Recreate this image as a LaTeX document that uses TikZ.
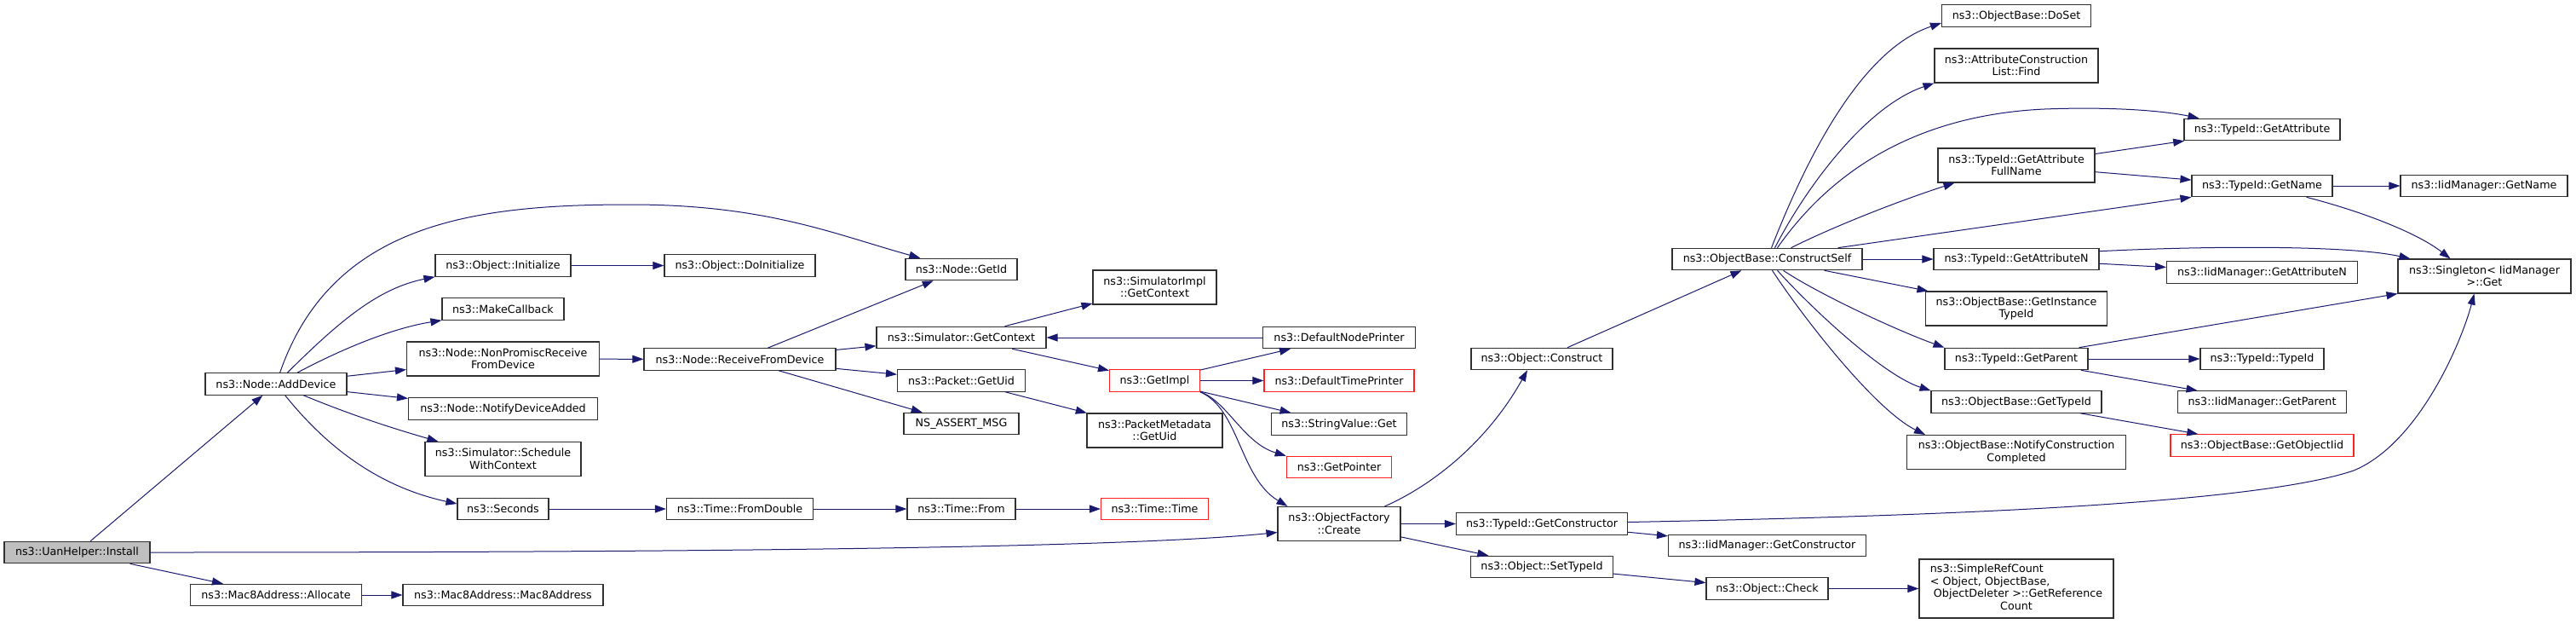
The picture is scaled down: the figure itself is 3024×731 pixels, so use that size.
\documentclass[tikz,border=0pt]{standalone}
\usepackage{fontspec}
\setmainfont{DejaVu Sans}
\usetikzlibrary{arrows.meta,calc}
\definecolor{midnight}{HTML}{191970}
\definecolor{nodeborder}{HTML}{303030}
\definecolor{rootfill}{HTML}{BFBFBF}
\definecolor{truncred}{HTML}{FF2020}
\tikzset{
  fn/.style={draw=nodeborder, line width=1.1pt, rectangle, inner sep=0pt, align=center,
             fill=white, font=\fontsize{12.7}{14.5}\selectfont},
  trunc/.style={fn, draw=truncred},
  root/.style={fn, fill=rootfill},
  edge/.style={draw=midnight, line width=1pt, -{Triangle[length=13pt,width=9pt]}},
}
\newcommand\fnode[6]{\node[#1, minimum width=#4pt, minimum height=#5pt] (#2) at (#3) {#6};}
\begin{document}
\begin{tikzpicture}[x=1pt,y=-1pt]
\fill[white] (0,0) rectangle (3024,731);
\useasboundingbox (0,0) rectangle (3024,731);

\fnode{root}{install}{90.5,648}{171}{25.5}{ns3::UanHelper::Install}
\fnode{fn}{adddev}{324,450.5}{166}{25.5}{ns3::Node::AddDevice}
\fnode{fn}{allocate}{324,698}{201.5}{25.5}{ns3::Mac8Address::Allocate}
\fnode{fn}{objinit}{590.5,311.5}{159}{25.5}{ns3::Object::Initialize}
\fnode{fn}{makecb}{590.5,362.5}{143}{25.5}{ns3::MakeCallback}
\fnode{fn}{nonpromisc}{590.5,421}{226}{40}{ns3::Node::NonPromiscReceive\\FromDevice}
\fnode{fn}{notify}{590.5,479.5}{222}{25.5}{ns3::Node::NotifyDeviceAdded}
\fnode{fn}{schedule}{590.5,538.5}{183}{40}{ns3::Simulator::Schedule\\WithContext}
\fnode{fn}{seconds}{590.5,597}{107}{25.5}{ns3::Seconds}
\fnode{fn}{mac8}{590.5,698}{235}{25.5}{ns3::Mac8Address::Mac8Address}
\fnode{fn}{doinit}{868.5,311.5}{177}{25.5}{ns3::Object::DoInitialize}
\fnode{fn}{recv}{868.5,421.5}{225}{25.5}{ns3::Node::ReceiveFromDevice}
\fnode{fn}{fromdouble}{868.5,597}{172}{25.5}{ns3::Time::FromDouble}
\fnode{fn}{getid}{1128.5,316}{131}{25.5}{ns3::Node::GetId}
\fnode{fn}{simctx}{1128.5,396}{199}{25.5}{ns3::Simulator::GetContext}
\fnode{fn}{pktuid}{1128.5,446.5}{150}{25.5}{ns3::Packet::GetUid}
\fnode{fn}{nsassert}{1128.5,497}{135}{25.5}{NS\_ASSERT\_MSG}
\fnode{fn}{timefrom}{1128.5,597}{127}{25.5}{ns3::Time::From}
\fnode{fn}{simimplctx}{1355.5,337}{145}{40}{ns3::SimulatorImpl\\::GetContext}
\fnode{trunc}{getimpl}{1355.5,446.5}{106}{25.5}{ns3::GetImpl}
\fnode{fn}{pktmeta}{1355.5,505}{159}{40}{ns3::PacketMetadata\\::GetUid}
\fnode{trunc}{timetime}{1355.5,597}{126}{25.5}{ns3::Time::Time}
\fnode{fn}{defnode}{1572,396}{178.5}{25.5}{ns3::DefaultNodePrinter}
\fnode{trunc}{deftime}{1572,446.5}{176}{25.5}{ns3::DefaultTimePrinter}
\fnode{fn}{strval}{1572,497.5}{159}{25.5}{ns3::StringValue::Get}
\fnode{trunc}{getptr}{1572,548}{123.5}{25.5}{ns3::GetPointer}
\fnode{fn}{ofcreate}{1572,614.5}{144}{40}{ns3::ObjectFactory\\::Create}
\fnode{fn}{construct}{1810,421}{166}{25.5}{ns3::Object::Construct}
\fnode{fn}{getctor}{1810,614.5}{201}{25.5}{ns3::TypeId::GetConstructor}
\fnode{fn}{settypeid}{1810,665}{167}{25.5}{ns3::Object::SetTypeId}
\fnode{fn}{constructself}{2074.5,304}{223}{25.5}{ns3::ObjectBase::ConstructSelf}
\fnode{fn}{iidgetctor}{2074.5,640}{232}{25.5}{ns3::IidManager::GetConstructor}
\fnode{fn}{check}{2074.5,690.5}{143}{25.5}{ns3::Object::Check}
\fnode{fn}{doset}{2367,18.5}{175}{25.5}{ns3::ObjectBase::DoSet}
\fnode{fn}{attrfind}{2367,77}{192}{40}{ns3::AttributeConstruction\\List::Find}
\fnode{fn}{fullname}{2367,194}{184}{40}{ns3::TypeId::GetAttribute\\FullName}
\fnode{fn}{getattrn}{2367,304}{194}{25.5}{ns3::TypeId::GetAttributeN}
\fnode{fn}{instancetid}{2367,362}{213.5}{40}{ns3::ObjectBase::GetInstance\\TypeId}
\fnode{fn}{getparent}{2367,421}{168}{25.5}{ns3::TypeId::GetParent}
\fnode{fn}{gettypeid}{2367,471.5}{200}{25.5}{ns3::ObjectBase::GetTypeId}
\fnode{fn}{notifycc}{2367,530.5}{257}{40}{ns3::ObjectBase::NotifyConstruction\\Completed}
\fnode{fn}{simpleref}{2367,690.5}{228}{69}{\begin{tabular}{@{}l@{}}ns3::SimpleRefCount\\< Object, ObjectBase,\\\ ObjectDeleter >::GetReference\\\multicolumn{1}{@{}c@{}}{Count}\end{tabular}}
\fnode{fn}{getattr}{2655.5,152}{183}{25.5}{ns3::TypeId::GetAttribute}
\fnode{fn}{getname}{2655.5,218}{165}{25.5}{ns3::TypeId::GetName}
\fnode{fn}{iidattrn}{2655.5,319.5}{224}{25.5}{ns3::IidManager::GetAttributeN}
\fnode{fn}{typeidctor}{2655.5,421}{145}{25.5}{ns3::TypeId::TypeId}
\fnode{fn}{iidparent}{2655.5,471.5}{198}{25.5}{ns3::IidManager::GetParent}
\fnode{trunc}{objiid}{2655.5,522.5}{215}{25.5}{ns3::ObjectBase::GetObjectIid}
\fnode{fn}{iidname}{2916,218}{196}{25.5}{ns3::IidManager::GetName}
\fnode{fn}{singleton}{2916.5,324}{203}{40}{ns3::Singleton< IidManager\\ >::Get}

% edges
\draw[edge] (install) -- (adddev);
\draw[edge] (install.east) .. controls (700,648) and (1300,645) .. ($(ofcreate.west)+(0,10)$);
\draw[edge] (install) -- (allocate);
\draw[edge] (allocate) -- (mac8);
\draw[edge] (adddev) .. controls (390,260) and (560,240) .. (740,240) .. controls (900,240) and (980,275) .. (getid);
\draw[edge] (adddev) .. controls (400,375) and (445,338) .. (objinit.south west);
\draw[edge] (adddev) .. controls (400,410) and (460,385) .. (makecb.south west);
\draw[edge] (adddev) -- (nonpromisc);
\draw[edge] (adddev) -- (notify);
\draw[edge] (adddev) .. controls (420,490) and (470,505) .. ($(schedule.north west)+(16,0)$);
\draw[edge] (adddev) .. controls (380,520) and (440,570) .. ($(seconds.west)+(0,-6)$);
\draw[edge] (objinit) -- (doinit);
\draw[edge] (nonpromisc) -- (recv);
\draw[edge] (seconds) -- (fromdouble);
\draw[edge] (fromdouble) -- (timefrom);
\draw[edge] (timefrom) -- (timetime);
\draw[edge] (recv) -- (getid);
\draw[edge] (recv) -- (simctx);
\draw[edge] (recv) -- (pktuid);
\draw[edge] (recv) -- (nsassert);
\draw[edge] (simctx) -- (simimplctx);
\draw[edge] (simctx) -- (getimpl);
\draw[edge] (defnode) -- (simctx);
\draw[edge] (pktuid) -- (pktmeta);
\draw[edge] (getimpl) -- (defnode);
\draw[edge] (getimpl) -- (deftime);
\draw[edge] (getimpl) -- (strval);
\draw[edge] (getimpl.south east) .. controls (1440,470) and (1460,520) .. (getptr.north west);
\draw[edge] (getimpl.south east) .. controls (1455,480) and (1455,560) .. ($(ofcreate.north west)+(12,0)$);
\draw[edge] ($(ofcreate.north east)+(-19,0)$) .. controls (1680,570) and (1745,520) .. ($(construct.south)+(-17,0)$);
\draw[edge] (construct) -- (constructself);
\draw[edge] (ofcreate) -- (getctor);
\draw[edge] (ofcreate) -- (settypeid);
\draw[edge] (getctor) -- (iidgetctor);
\draw[edge] (settypeid) -- (check);
\draw[edge] (check) -- (simpleref);
\draw[edge] ($(getctor.east)+(0,-2)$) .. controls (2300,605) and (2650,590) .. (2763,552) .. controls (2840,520) and (2890,400) .. ($(singleton.south)+(-12,0)$);
\draw[edge] ($(constructself.north)+(5,0)$) .. controls (2115,200) and (2180,60) .. ($(doset.west)+(0,8.5)$);
\draw[edge] ($(constructself.north)+(9,0)$) .. controls (2120,220) and (2190,125) .. (attrfind.south west);
\draw[edge] ($(constructself.north)+(12,0)$) .. controls (2150,200) and (2250,135) .. (2400,128) .. controls (2480,125) and (2540,130) .. ($(getattr.north west)+(18,0)$);
\draw[edge] ($(constructself.north)+(28,0)$) .. controls (2160,262) and (2240,232) .. ($(fullname.south west)+(20,0)$);
\draw[edge] ($(constructself.north east)+(-29,0)$) -- (getname.south west);
\draw[edge] (fullname) -- (getattr);
\draw[edge] (fullname) -- (getname);
\draw[edge] (constructself) -- (getattrn);
\draw[edge] (getattrn) -- (iidattrn);
\draw[edge] ($(getattrn.north east)+(0,4)$) .. controls (2600,288) and (2760,288) .. ($(singleton.north west)+(15,0)$);
\draw[edge] (constructself) -- (instancetid);
\draw[edge] ($(constructself.south)+(19,0)$) .. controls (2130,342) and (2220,385) .. (getparent.north west);
\draw[edge] ($(constructself.south)+(12,0)$) .. controls (2125,360) and (2210,440) .. (gettypeid.north west);
\draw[edge] ($(constructself.south)+(6,0)$) .. controls (2115,370) and (2200,480) .. ($(notifycc.north west)+(22,0)$);
\draw[edge] ($(getparent.north east)+(-11,0)$) -- (singleton.south west);
\draw[edge] (getparent) -- (typeidctor);
\draw[edge] (getparent) -- (iidparent);
\draw[edge] (gettypeid) -- (objiid);
\draw[edge] (getname) -- (iidname);
\draw[edge] ($(getname.south east)+(-31,0)$) .. controls (2780,250) and (2840,275) .. ($(singleton.north)+(-40,0)$);
\end{tikzpicture}
\end{document}
